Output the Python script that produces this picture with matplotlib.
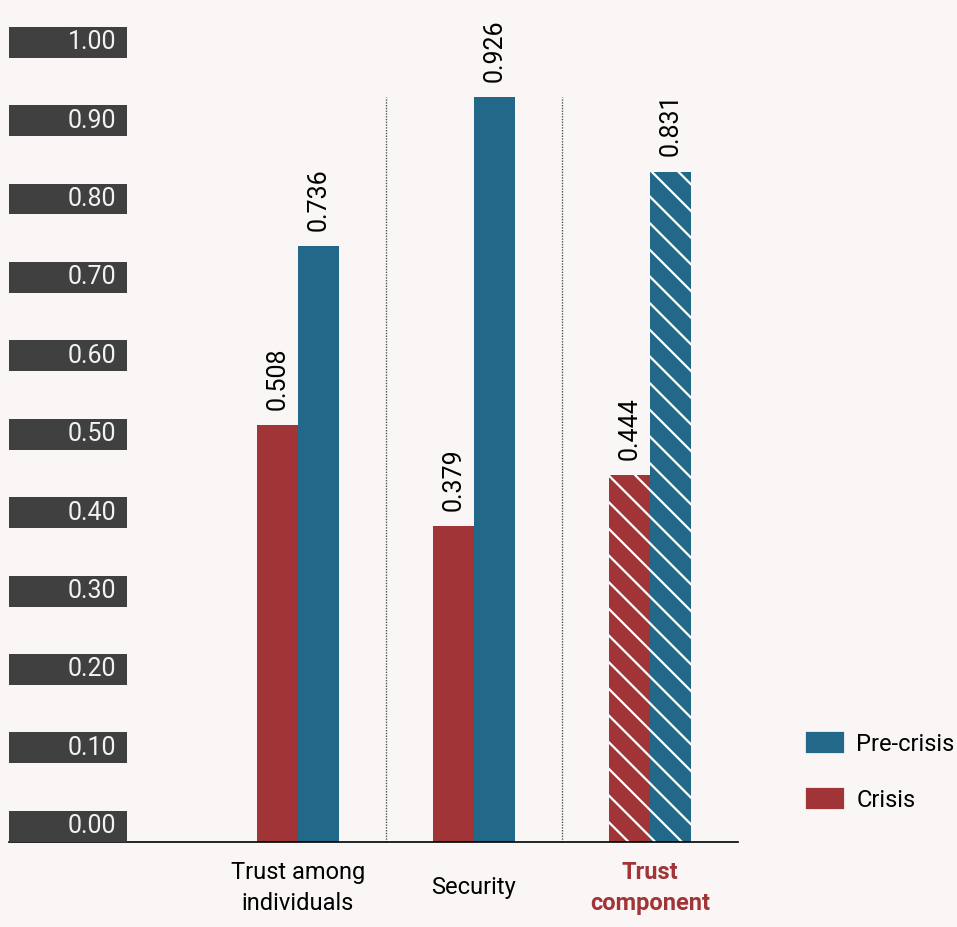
import matplotlib
matplotlib.use('Agg')
import matplotlib.pyplot as plt
from matplotlib.patches import Rectangle
import matplotlib.transforms as mtransforms

# Data
categories = ["Trust among\nindividuals", "Security", "Trust\ncomponent"]
crisis = [0.508, 0.379, 0.444]
pre_crisis = [0.736, 0.926, 0.831]
y_ticks = [0.0, 0.1, 0.2, 0.3, 0.4, 0.5, 0.6, 0.7, 0.8, 0.9, 1.0]

RED = "#a13437"
BLUE = "#226888"
BG = "#f9f6f5"
BOX = "#404040"

# higher dpi gives a tighter hatch spacing; S keeps sizes in pixels the same
DPI = 160
S = 100 / DPI

plt.rcParams['font.family'] = ['Roboto', 'DejaVu Sans']
plt.rcParams['hatch.linewidth'] = 1.6 * S

fig = plt.figure(figsize=(957 / DPI, 927 / DPI), dpi=DPI, facecolor=BG)
ax = fig.add_axes([0.0094, 0.0917, 0.7618, 0.8975])
ax.set_facecolor(BG)

y_bottom = -0.024
ax.set_ylim(y_bottom, 1.037)
ax.set_xlim(-0.64, 3.5)

x = [1, 2, 3]
w = 0.233
for i, xi in enumerate(x):
    hatch = "\\\\" if i == 2 else None
    ax.bar(xi - w / 2, crisis[i] - y_bottom, w, bottom=y_bottom, color=RED,
           hatch=hatch, edgecolor="white", linewidth=0)
    ax.bar(xi + w / 2, pre_crisis[i] - y_bottom, w, bottom=y_bottom, color=BLUE,
           hatch=hatch, edgecolor="white", linewidth=0)
    for xv, val in ((xi - w / 2, crisis[i]), (xi + w / 2, pre_crisis[i])):
        ax.annotate(f"{val:.3f}", xy=(xv, val), xytext=(0, 11 * S),
                    textcoords="offset points", rotation=90,
                    ha="center", va="bottom", fontsize=18 * S, color="black")

# dotted separators between groups
top = max(pre_crisis)
for xs in (1.5, 2.5):
    ax.plot([xs, xs], [y_bottom, top], linestyle=(0, (1, 1)), color="#555555",
            linewidth=1 * S)

# y tick labels drawn as dark boxes
trans = mtransforms.blended_transform_factory(ax.transAxes, ax.transData)
box_h = 0.0395
shift = 0.004
for v in y_ticks:
    ax.add_patch(Rectangle((0, v - shift - box_h / 2), 0.162, box_h,
                           transform=trans, facecolor=BOX, edgecolor="none",
                           zorder=3))
    ax.text(0.147, v - shift, f"{v:.2f}", transform=trans, ha="right",
            va="center", fontsize=18 * S, color="#f2f2f2", zorder=4)

ax.set_yticks([])
ax.set_xticks(x)
ax.set_xticklabels(categories, fontsize=17 * S, linespacing=1.45, va="center")
ax.tick_params(axis="x", length=0, pad=33 * S)
lbl = ax.get_xticklabels()[2]
lbl.set_color(RED)
lbl.set_fontweight("bold")

for s in ("top", "right", "left"):
    ax.spines[s].set_visible(False)
ax.spines["bottom"].set_color("black")
ax.spines["bottom"].set_linewidth(1.2 * S)

# legend
h1 = Rectangle((0, 0), 1, 1, color=BLUE)
h2 = Rectangle((0, 0), 1, 1, color=RED)
fig.legend([h1, h2], ["Pre-crisis", "Crisis"], loc="center left",
           bbox_to_anchor=(0.843, 0.167), frameon=False, fontsize=17 * S,
           handlelength=1.55, handleheight=0.85, labelspacing=1.4,
           handletextpad=0.55, borderpad=0, borderaxespad=0)

fig.savefig("out.png", dpi=DPI, facecolor=BG)
